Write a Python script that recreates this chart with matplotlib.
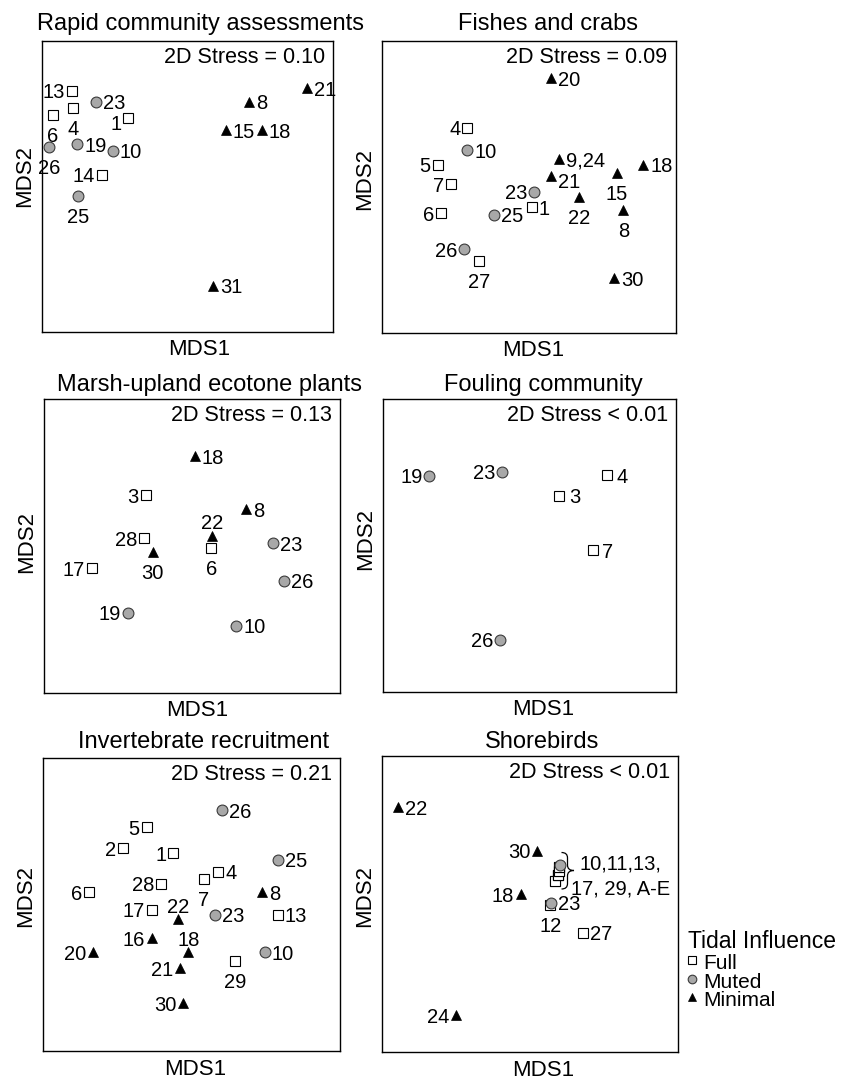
import matplotlib
matplotlib.use('Agg')
import matplotlib.pyplot as plt
from matplotlib.path import Path
from matplotlib.patches import PathPatch
from matplotlib.lines import Line2D

plt.rcParams['font.family'] = ['Liberation Sans', 'DejaVu Sans']

# ---------------- data ----------------
titles = ['Rapid community assessments', 'Fishes and crabs',
          'Marsh-upland ecotone plants', 'Fouling community',
          'Invertebrate recruitment', 'Shorebirds']
stress = ['2D Stress = 0.10', '2D Stress = 0.09', '2D Stress = 0.13',
          '2D Stress < 0.01', '2D Stress = 0.21', '2D Stress < 0.01']
legend_title = 'Tidal Influence'
group_names = ['Full', 'Muted', 'Minimal']

rapid_sites = ['13', '4', '6', '23', '1', '26', '19', '10', '14', '25', '8', '21', '15', '18', '31']
rapid_groups = ['Full', 'Full', 'Full', 'Muted', 'Full', 'Muted', 'Muted', 'Muted', 'Full', 'Muted',
                'Minimal', 'Minimal', 'Minimal', 'Minimal', 'Minimal']
rapid_mds1 = [0.103, 0.108, 0.038, 0.187, 0.297, 0.026, 0.122, 0.244, 0.206, 0.126, 0.713, 0.910, 0.632, 0.755, 0.589]
rapid_mds2 = [0.828, 0.770, 0.745, 0.791, 0.734, 0.636, 0.645, 0.622, 0.539, 0.468, 0.791, 0.837, 0.693, 0.693, 0.158]

fish_sites = ['20', '4', '10', '5', '7', '6', '23', '25', '1', '26', '27', '9,24', '21', '22', '15', '18', '8', '30']
fish_groups = ['Minimal', 'Full', 'Muted', 'Full', 'Full', 'Full', 'Muted', 'Muted', 'Full', 'Muted', 'Full',
               'Minimal', 'Minimal', 'Minimal', 'Minimal', 'Minimal', 'Minimal', 'Minimal']
fish_mds1 = [0.576, 0.291, 0.291, 0.190, 0.236, 0.202, 0.518, 0.382, 0.510, 0.281, 0.332, 0.602, 0.576, 0.672, 0.799, 0.890, 0.822, 0.791]
fish_mds2 = [0.871, 0.702, 0.626, 0.576, 0.509, 0.410, 0.483, 0.404, 0.430, 0.286, 0.246, 0.594, 0.537, 0.466, 0.546, 0.575, 0.421, 0.187]

marsh_sites = ['18', '3', '8', '22', '6', '28', '30', '17', '23', '26', '19', '10']
marsh_groups = ['Minimal', 'Full', 'Minimal', 'Minimal', 'Full', 'Full', 'Minimal', 'Full',
                'Muted', 'Muted', 'Muted', 'Muted']
marsh_mds1 = [0.510, 0.344, 0.682, 0.568, 0.565, 0.339, 0.367, 0.161, 0.773, 0.812, 0.283, 0.649]
marsh_mds2 = [0.806, 0.673, 0.625, 0.535, 0.492, 0.526, 0.481, 0.424, 0.509, 0.382, 0.273, 0.229]

foul_sites = ['19', '23', '4', '3', '7', '26']
foul_groups = ['Muted', 'Muted', 'Full', 'Full', 'Full', 'Muted']
foul_mds1 = [0.159, 0.408, 0.764, 0.602, 0.716, 0.400]
foul_mds2 = [0.737, 0.751, 0.740, 0.669, 0.484, 0.177]

inv_sites = ['26', '5', '2', '1', '25', '4', '7', '28', '6', '8', '17', '22', '23', '13', '16', '18', '20', '10', '29', '21', '30']
inv_groups = ['Muted', 'Full', 'Full', 'Full', 'Muted', 'Full', 'Full', 'Full', 'Full', 'Minimal', 'Full',
              'Minimal', 'Muted', 'Full', 'Minimal', 'Minimal', 'Minimal', 'Muted', 'Full', 'Minimal', 'Minimal']
inv_mds1 = [0.602, 0.349, 0.270, 0.439, 0.792, 0.590, 0.542, 0.397, 0.156, 0.738, 0.366, 0.456, 0.579, 0.790,
            0.368, 0.489, 0.169, 0.747, 0.646, 0.461, 0.472]
inv_mds2 = [0.822, 0.763, 0.691, 0.674, 0.652, 0.612, 0.587, 0.570, 0.541, 0.541, 0.481, 0.449, 0.464, 0.464,
            0.384, 0.336, 0.336, 0.336, 0.307, 0.282, 0.162]

bird_sites = ['22', '30', '18', '12', '23', '27', '24', 'D', 'E', 'A', 'B', 'C', '17', '29', '11', '13', '10']
bird_groups = ['Minimal', 'Minimal', 'Minimal', 'Full', 'Muted', 'Full', 'Minimal',
               'Full', 'Full', 'Full', 'Full', 'Full', 'Full', 'Full', 'Full', 'Full', 'Muted']
bird_mds1 = [0.055, 0.525, 0.469, 0.569, 0.571, 0.678, 0.250,
             0.586, 0.586, 0.594, 0.594, 0.594, 0.599, 0.599, 0.597, 0.597, 0.600]
bird_mds2 = [0.826, 0.680, 0.532, 0.497, 0.503, 0.402, 0.124,
             0.578, 0.578, 0.597, 0.597, 0.597, 0.612, 0.612, 0.624, 0.624, 0.630]
bird_cluster_text = ['10,11,13,', '17, 29, A-E']

# ---------------- layout / style ----------------
rapid_lab = list('lbbrLbrrlbrrrrr')
fish_lab = list('rlrllllrrlbrRbbrbr')
marsh_lab = list('rlrtblblrrlr')
foul_lab = list('llrrrl')
inv_lab = ['r', 'l', 'l', 'l', 'r', 'r', 'b', 'l', 'l', 'r', 'l', 't', 'r', 'r', 'l', 't', 'l', 'r', 'b', 'l', 'l']
bird_lab = ['r', 'l', 'l', 'b', 'r', 'r', 'l'] + ['n'] * 10

W, H = 854, 1079
# boxes in pixels: left, top, right, bottom
boxes = [(41.7, 40.7, 333, 332), (381.7, 40.7, 675.7, 333),
         (44, 399, 340, 693), (382.7, 399, 676, 691.7),
         (43, 758, 340, 1050.7), (382, 756, 678, 1051.7)]
title_dx = [13, 19, 18, 14, 12, 12]
title_dy = [19, 19, 16, 16, 18, 16]
xlab_dx = [12, 4, 5.5, 14, 3.5, 13]
xlab_dy = [15, 15, 15, 15, 16, 16]
ylab_dy = [-10, -8, -4, -6, -8, -8]

panels = [
    (rapid_sites, rapid_groups, rapid_mds1, rapid_mds2, rapid_lab),
    (fish_sites, fish_groups, fish_mds1, fish_mds2, fish_lab),
    (marsh_sites, marsh_groups, marsh_mds1, marsh_mds2, marsh_lab),
    (foul_sites, foul_groups, foul_mds1, foul_mds2, foul_lab),
    (inv_sites, inv_groups, inv_mds1, inv_mds2, inv_lab),
    (bird_sites, bird_groups, bird_mds1, bird_mds2, bird_lab),
]

styles = {
    'Full': dict(marker='s', ms=6.5, mfc='white', mec='black', mew=0.8),
    'Muted': dict(marker='o', ms=7.8, mfc='#a8a8a8', mec='#3a3a3a', mew=0.8),
    'Minimal': dict(marker='^', ms=6.6, mfc='black', mec='black', mew=0.5),
}
offsets = {
    'r': ((5, 0), 'left', 'center_baseline'),
    'R': ((5, -3), 'left', 'center_baseline'),
    'l': ((-5, 0), 'right', 'center_baseline'),
    'L': ((-5, -3), 'right', 'center_baseline'),
    'b': ((0, -14), 'center', 'center_baseline'),
    't': ((0, 10), 'center', 'center_baseline'),
}
LABEL_FS = 14.5


def fx(px):
    return px / W


def fy(py):
    return 1 - py / H


fig = plt.figure(figsize=(W / 100, H / 100), dpi=100)

for i, (sites, groups, xs, ys, labs) in enumerate(panels):
    l, t, r, b = boxes[i]
    ax = fig.add_axes([fx(l), fy(b), (r - l) / W, (b - t) / H])
    ax.set_xlim(0, 1)
    ax.set_ylim(0, 1)
    ax.set_xticks([])
    ax.set_yticks([])
    for sp in ax.spines.values():
        sp.set_linewidth(1.0)
    for s, g, x, y, lab in zip(sites, groups, xs, ys, labs):
        ax.plot([x], [y], ls='none', clip_on=False, zorder=3 if g != 'Full' else 2, **styles[g])
        if lab in offsets:
            off, ha, va = offsets[lab]
            if i == 3 and lab == 'r':
                off = (7, 0)
            ax.annotate(s, (x, y), xytext=off, textcoords='offset points', ha=ha, va=va,
                        fontsize=LABEL_FS, annotation_clip=False)
    # stress text
    ax.annotate(stress[i], (1, 1), xycoords='axes fraction', xytext=(-6, -10),
                textcoords='offset points', ha='right', va='center_baseline', fontsize=15.5)
    # titles and axis labels
    cx = (l + r) / 2
    cy = (t + b) / 2
    fig.text(fx(cx + title_dx[i]), fy(t - title_dy[i]), titles[i], ha='center',
             va='center_baseline', fontsize=17)
    fig.text(fx(cx + xlab_dx[i]), fy(b + xlab_dy[i]), 'MDS1', ha='center',
             va='center_baseline', fontsize=16)
    fig.text(fx(l - 17), fy(cy + ylab_dy[i]), 'MDS2', ha='center', va='center',
             rotation=90, fontsize=16)

    if i == 5:
        # curly brace around the overlapping cluster
        def bx(px):
            return (px - l) / (r - l)

        def by(py):
            return (b - py) / (b - t)
        x0, xm, xt = bx(561.5), bx(567.5), bx(574)
        yt, ymid, yb = by(852.5), by(870.5), by(889)
        rr = 0.018
        verts = [(x0, yt), (xm, yt), (xm, yt - rr),
                 (xm, ymid + rr), (xm, ymid), (xt, ymid),
                 (xm, ymid), (xm, ymid - rr),
                 (xm, yb + rr), (xm, yb), (x0, yb)]
        codes = [Path.MOVETO, Path.CURVE3, Path.CURVE3,
                 Path.LINETO, Path.CURVE3, Path.CURVE3,
                 Path.CURVE3, Path.CURVE3,
                 Path.LINETO, Path.CURVE3, Path.CURVE3]
        ax.add_patch(PathPatch(Path(verts, codes), fc='none', ec='black', lw=0.9,
                               transform=ax.transAxes, clip_on=False))
        ax.text(bx(579.5), by(862), bird_cluster_text[0], ha='left', va='center_baseline',
                fontsize=LABEL_FS, transform=ax.transAxes, clip_on=False)
        ax.text(bx(571.5), by(887), bird_cluster_text[1], ha='left', va='center_baseline',
                fontsize=LABEL_FS, transform=ax.transAxes, clip_on=False)

# legend (manual, tightly spaced)
fig.text(fx(688), fy(938.5), legend_title, ha='left', va='center_baseline', fontsize=16.5)
leg_y = [961.5, 980, 998.5]
leg_ms = {'Full': 5.2, 'Muted': 6.2, 'Minimal': 5.6}
for name, yy in zip(group_names, leg_y):
    st = dict(styles[name])
    st['ms'] = leg_ms[name]
    fig.add_artist(Line2D([fx(692.5)], [fy(yy - 1.5)], transform=fig.transFigure, ls='none', **st))
    fig.text(fx(703), fy(yy), name, ha='left', va='center_baseline', fontsize=15)

fig.savefig('out.png', dpi=100)
